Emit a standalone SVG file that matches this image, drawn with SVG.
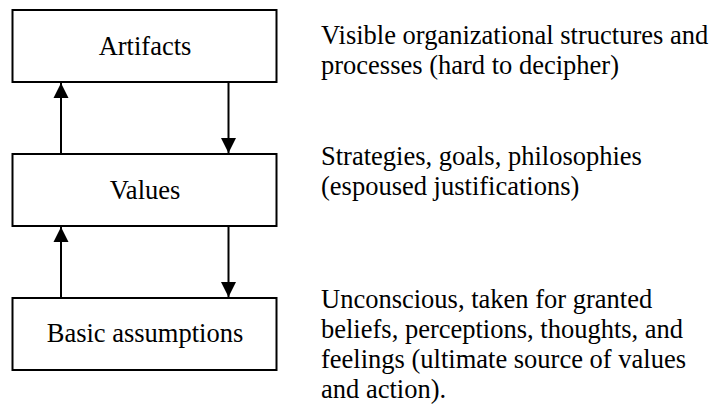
<svg xmlns="http://www.w3.org/2000/svg" width="712" height="405" viewBox="0 0 712 405">
  <style>
    .box { fill: #ffffff; stroke: #000000; stroke-width: 2; }
    .lbl { font-family: "Liberation Serif", "Times New Roman", serif; font-size: 26.5px; fill: #000000; }
    .mid { text-anchor: middle; }
    .conn { stroke: #000000; stroke-width: 2; fill: none; marker-end: url(#arrow); }
  </style>
  <defs>
    <marker id="arrow" markerUnits="userSpaceOnUse" markerWidth="16" markerHeight="16" viewBox="0 0 16 16" refX="15" refY="8" orient="auto">
      <path d="M0,0.5 L15,8 L0,15.5 Z" fill="#000000"/>
    </marker>
  </defs>
  <rect width="712" height="405" fill="#ffffff"/>
  <g id="connectors">
    <line class="conn" x1="61" y1="154" x2="61" y2="83"/>
    <line class="conn" x1="228.5" y1="82" x2="228.5" y2="153"/>
    <line class="conn" x1="61" y1="298" x2="61" y2="227"/>
    <line class="conn" x1="228.5" y1="226" x2="228.5" y2="297"/>
  </g>
  <g id="artifacts">
    <rect class="box" x="12.5" y="10" width="264" height="72"/>
    <text class="lbl mid" x="145" y="55">Artifacts</text>
  </g>
  <g id="values">
    <rect class="box" x="12.5" y="154" width="264" height="72"/>
    <text class="lbl mid" x="145" y="198.5">Values</text>
  </g>
  <g id="basic-assumptions">
    <rect class="box" x="12.5" y="298" width="264" height="72"/>
    <text class="lbl mid" x="145" y="342">Basic assumptions</text>
  </g>
  <g id="desc-artifacts">
    <text class="lbl" x="321" y="43.5">Visible organizational structures and</text>
    <text class="lbl" x="321" y="73.5">processes (hard to decipher)</text>
  </g>
  <g id="desc-values">
    <text class="lbl" x="321" y="165">Strategies, goals, philosophies</text>
    <text class="lbl" x="321" y="195">(espoused justifications)</text>
  </g>
  <g id="desc-assumptions">
    <text class="lbl" x="321" y="307.5">Unconscious, taken for granted</text>
    <text class="lbl" x="321" y="337.5">beliefs, perceptions, thoughts, and</text>
    <text class="lbl" x="321" y="367.5">feelings (ultimate source of values</text>
    <text class="lbl" x="321" y="397.5">and action).</text>
  </g>
</svg>
